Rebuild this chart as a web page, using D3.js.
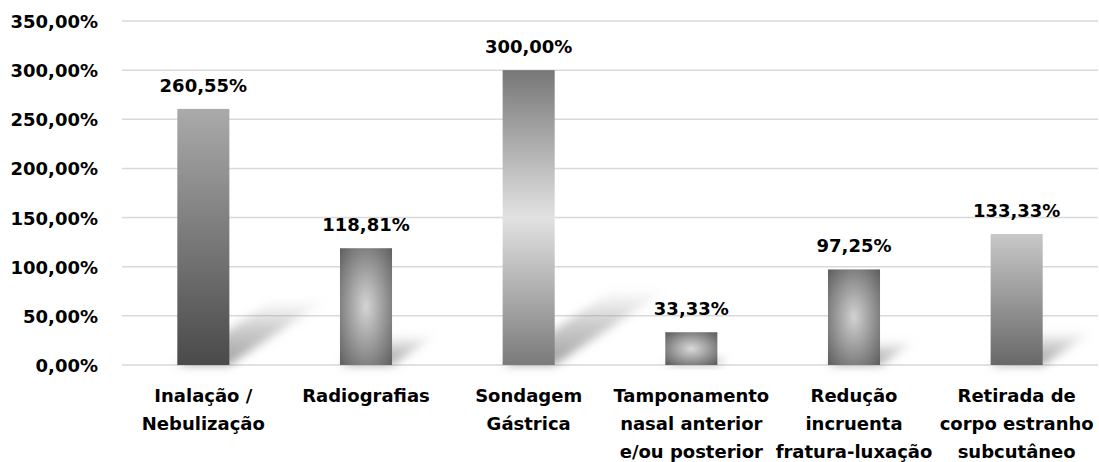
<!DOCTYPE html>
<html>
<head>
<meta charset="utf-8">
<script src="https://cdn.jsdelivr.net/npm/d3@7"></script>
<style>
  body { margin: 0; background: #fff; }
</style>
</head>
<body>
<div id="chart"></div>
<script>
// categories (multi-line labels) and values
var categories = [
    ["Inalação /", "Nebulização"],
    ["Radiografias"],
    ["Sondagem", "Gástrica"],
    ["Tamponamento", "nasal anterior", "e/ou posterior"],
    ["Redução", "incruenta", "fratura-luxação"],
    ["Retirada de", "corpo estranho", "subcutâneo"]
];
var values = [260.55, 118.81, 300.00, 33.33, 97.25, 133.33];
var yTicks = [0, 50, 100, 150, 200, 250, 300, 350];

// fill style for each bar
var fills = [
    {type: "linear", stops: [[0, "#aaaaaa"], [1, "#4a4a4a"]]},
    {type: "radial", stops: [[0, "#d4d4d4"], [1, "#5c5c5c"]]},
    {type: "linear", stops: [[0, "#777777"], [0.5, "#e2e2e2"], [1, "#7a7a7a"]]},
    {type: "radial", stops: [[0, "#dadada"], [1, "#555555"]]},
    {type: "radial", stops: [[0, "#d2d2d2"], [1, "#5a5a5a"]]},
    {type: "linear", stops: [[0, "#c8c8c8"], [1, "#686868"]]}
];

// no serif face here, DejaVu Sans bold comes closest in width
var FONT = "'DejaVu Sans', sans-serif";
var FS = 18;

var W = 1099, H = 462;
var margin = {top: 21, right: 1, bottom: 97, left: 122};
var width = W - margin.left - margin.right,
    height = H - margin.top - margin.bottom;

var fmt = function (v) { return d3.format(".2f")(v).replace(".", ",") + "%"; };

var svg = d3.select("#chart").append("svg")
    .attr("width", W).attr("height", H)
    .attr("font-family", FONT);
var defs = svg.append("defs");

fills.forEach(function (f, i) {
    var gr;
    if (f.type === "linear") {
        gr = defs.append("linearGradient").attr("id", "fill" + i)
            .attr("x1", 0).attr("y1", 0).attr("x2", 0).attr("y2", 1);
    } else {
        gr = defs.append("radialGradient").attr("id", "fill" + i)
            .attr("cx", 0.5).attr("cy", 0.5).attr("r", 0.72);
    }
    f.stops.forEach(function (s) {
        gr.append("stop").attr("offset", s[0]).attr("stop-color", s[1]);
    });
});

// shadow
var blur = defs.append("filter").attr("id", "blur")
    .attr("x", "-50%").attr("y", "-50%").attr("width", "200%").attr("height", "200%");
blur.append("feGaussianBlur").attr("stdDeviation", 5);
var sg = defs.append("linearGradient").attr("id", "shadeGrad")
    .attr("x1", 0).attr("y1", 1).attr("x2", 0).attr("y2", 0);
sg.append("stop").attr("offset", 0).attr("stop-color", "#777").attr("stop-opacity", 0.7);
sg.append("stop").attr("offset", 0.6).attr("stop-color", "#888").attr("stop-opacity", 0.4);
sg.append("stop").attr("offset", 1).attr("stop-color", "#aaa").attr("stop-opacity", 0.05);

var g = svg.append("g")
    .attr("transform", "translate(" + margin.left + "," + margin.top + ")");

var x = d3.scaleBand()
    .domain(d3.range(categories.length))
    .range([0, width])
    .paddingInner(0.68)
    .paddingOuter(0.34);

var y = d3.scaleLinear()
    .domain([0, 350])
    .range([height, 0]);

// gridlines
g.append("g").selectAll("line").data(yTicks)
    .enter().append("line")
    .attr("x1", 0).attr("x2", width)
    .attr("y1", function (d) { return y(d); })
    .attr("y2", function (d) { return y(d); })
    .attr("stroke", "#d9d9d9")
    .attr("stroke-width", 1.5);

// y axis labels
var yAxis = d3.axisLeft(y).tickValues(yTicks).tickFormat(fmt).tickSize(0).tickPadding(24);
var ya = g.append("g").call(yAxis)
    .attr("font-family", FONT).attr("font-size", FS).attr("font-weight", "bold");
ya.select(".domain").remove();
ya.selectAll("text").attr("dy", "0.36em").attr("fill", "#000");

// shadows
g.append("g").selectAll("path").data(values)
    .enter().append("path")
    .attr("d", function (d, i) {
        var x0 = x(i), x1 = x(i) + x.bandwidth(), b = y(0);
        var h = y(0) - y(d);
        var dx = 0.37 * h, dy = 0.25 * h;
        return "M" + x0 + "," + b + "L" + x1 + "," + b +
            "L" + (x1 + dx) + "," + (b - dy) + "L" + (x0 + dx) + "," + (b - dy) + "Z";
    })
    .attr("fill", "url(#shadeGrad)")
    .attr("filter", "url(#blur)");

// bars
g.append("g").selectAll("rect").data(values)
    .enter().append("rect")
    .attr("x", function (d, i) { return x(i); })
    .attr("y", function (d) { return y(d); })
    .attr("width", x.bandwidth())
    .attr("height", function (d) { return y(0) - y(d); })
    .attr("fill", function (d, i) { return "url(#fill" + i + ")"; });

// value labels
g.append("g").selectAll("text").data(values)
    .enter().append("text")
    .attr("x", function (d, i) { return x(i) + x.bandwidth() / 2; })
    .attr("y", function (d) { return y(d) - 17; })
    .attr("text-anchor", "middle")
    .attr("font-family", FONT).attr("font-size", FS).attr("font-weight", "bold")
    .text(fmt);

// category labels
var cat = g.append("g").selectAll("text").data(categories)
    .enter().append("text")
    .attr("text-anchor", "middle")
    .attr("x", function (d, i) { return x(i) + x.bandwidth() / 2; })
    .attr("y", height + 37)
    .attr("font-family", FONT).attr("font-size", FS).attr("font-weight", "bold");
cat.selectAll("tspan").data(function (d) { return d; })
    .enter().append("tspan")
    .attr("x", function () { return d3.select(this.parentNode).attr("x"); })
    .attr("dy", function (d, i) { return i === 0 ? 0 : 28; })
    .text(function (d) { return d; });
</script>
</body>
</html>
